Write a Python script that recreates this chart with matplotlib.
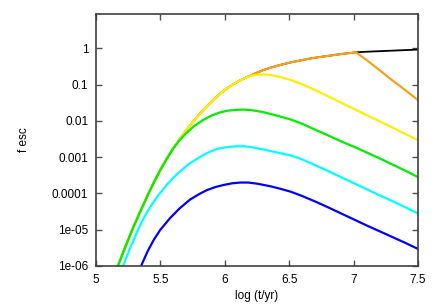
import numpy as np
import matplotlib
matplotlib.use('Agg')
import matplotlib.pyplot as plt

# common rising branch (log t, log10 f_esc), shared by all the upper curves
rise_x = [5.17, 5.23, 5.29, 5.35, 5.40, 5.45, 5.50, 5.55, 5.60]
rise_y = [-6.0, -5.45, -4.93, -4.45, -4.06, -3.69, -3.35, -3.04, -2.76]

# upper envelope after the rise (black / orange / yellow share it)
env_x = [5.65, 5.70, 5.75, 5.80, 5.86, 5.92, 5.97, 6.03, 6.09, 6.15]
env_y = [-2.50, -2.26, -2.04, -1.83, -1.60, -1.39, -1.23, -1.07, -0.94, -0.83]
env2_x = [6.20, 6.25, 6.30, 6.36, 6.43, 6.51, 6.58, 6.65, 6.72, 6.80, 6.90, 7.02]
env2_y = [-0.75, -0.67, -0.60, -0.53, -0.46, -0.39, -0.34, -0.29, -0.25, -0.21, -0.16, -0.11]

black_tail_x = [7.10, 7.20, 7.30, 7.40, 7.50]
black_tail_y = [-0.095, -0.08, -0.065, -0.05, -0.035]

orange_tail_x = [7.06, 7.10, 7.15, 7.20, 7.30, 7.40, 7.50]
orange_tail_y = [-0.22, -0.32, -0.46, -0.60, -0.88, -1.15, -1.43]

yellow_tail_x = [6.20, 6.25, 6.30, 6.36, 6.43, 6.51, 6.60, 6.70, 6.80, 6.95, 7.10, 7.20, 7.30, 7.40, 7.50]
yellow_tail_y = [-0.76, -0.73, -0.72, -0.74, -0.79, -0.87, -0.99, -1.15, -1.32, -1.58, -1.84, -2.01, -2.18, -2.36, -2.53]

green_tail_x = [5.65, 5.70, 5.76, 5.83, 5.90, 5.96, 6.02, 6.08, 6.14, 6.20, 6.30, 6.43, 6.51, 6.60,
                6.70, 6.82, 6.90, 7.00, 7.10, 7.20, 7.30, 7.40, 7.50]
green_tail_y = [-2.53, -2.34, -2.15, -1.98, -1.85, -1.77, -1.72, -1.70, -1.69, -1.70, -1.76, -1.88, -1.96, -2.08,
                -2.24, -2.43, -2.56, -2.71, -2.87, -3.03, -3.20, -3.37, -3.55]

cyan_x = [5.21, 5.26, 5.32, 5.37, 5.42, 5.46, 5.50, 5.55, 5.60, 5.66, 5.73, 5.80, 5.86, 5.92, 5.97, 6.03,
          6.09, 6.15, 6.20, 6.30, 6.43, 6.51, 6.60, 6.70, 6.80, 6.95, 7.10, 7.20, 7.30, 7.40, 7.50]
cyan_y = [-6.0, -5.55, -5.05, -4.68, -4.38, -4.17, -3.98, -3.76, -3.57, -3.37, -3.17, -3.01, -2.89, -2.80, -2.75, -2.72,
          -2.70, -2.70, -2.72, -2.79, -2.89, -2.95, -3.06, -3.22, -3.38, -3.63, -3.88, -4.05, -4.21, -4.38, -4.55]

blue_x = [5.35, 5.40, 5.45, 5.50, 5.575, 5.65, 5.73, 5.80, 5.86, 5.93, 6.00, 6.06, 6.12, 6.18, 6.25, 6.35,
          6.43, 6.51, 6.60, 6.70, 6.80, 6.95, 7.10, 7.20, 7.30, 7.40, 7.50]
blue_y = [-6.0, -5.6, -5.27, -5.0, -4.68, -4.41, -4.17, -4.02, -3.91, -3.82, -3.76, -3.72, -3.70, -3.70, -3.73, -3.80,
          -3.87, -3.95, -4.07, -4.22, -4.38, -4.63, -4.88, -5.04, -5.20, -5.36, -5.53]

series = [
    ('black', 1.3, rise_x + env_x + env2_x + black_tail_x, rise_y + env_y + env2_y + black_tail_y),
    ('#f8a21c', 1.6, rise_x + env_x + env2_x + orange_tail_x, rise_y + env_y + env2_y + orange_tail_y),
    ('#ffee00', 1.6, rise_x + env_x + yellow_tail_x, rise_y + env_y + yellow_tail_y),
    ('#00ee00', 1.6, rise_x + green_tail_x, rise_y + green_tail_y),
    ('#00ffff', 1.6, cyan_x, cyan_y),
    ('#0000ff', 1.6, blue_x, blue_y),
]

plt.rcParams['font.family'] = ['Liberation Sans', 'DejaVu Sans']
plt.rcParams['font.size'] = 8.5

fig = plt.figure(figsize=(4.36, 3.05), dpi=100)
ax = fig.add_axes([96 / 436, 39 / 305, 322 / 436, 252 / 305])

for color, lw, xs, ys in series:
    ax.plot(xs, 10 ** np.array(ys), color=color, lw=lw, solid_joinstyle='round')

ax.set_yscale('log')
ax.set_xlim(5, 7.5)
ax.set_ylim(1e-6, 10 ** 0.945)
ax.set_xticks([5, 5.5, 6, 6.5, 7, 7.5])
ax.set_xticklabels(['5', '5.5', '6', '6.5', '7', '7.5'])
yt = [1e-6, 1e-5, 1e-4, 1e-3, 1e-2, 1e-1, 1]
ax.set_yticks(yt)
ax.set_yticklabels(['1e-06', '1e-05', '0.0001', '0.001', '0.01', '0.1', '1'])
ax.yaxis.set_minor_locator(matplotlib.ticker.NullLocator())
ax.tick_params(direction='in', length=4.5, width=1, top=True, right=True,
               color='#505050', pad=5.5)
for sp in ax.spines.values():
    sp.set_color('#404040')
    sp.set_linewidth(1.2)

fig.text(24 / 436, 1 - 140 / 305, 'f esc', rotation=90, ha='center', va='center')
fig.text(257 / 436, 1 - 296 / 305, 'log (t/yr)', ha='center', va='center')

fig.savefig('out.png', dpi=100)
